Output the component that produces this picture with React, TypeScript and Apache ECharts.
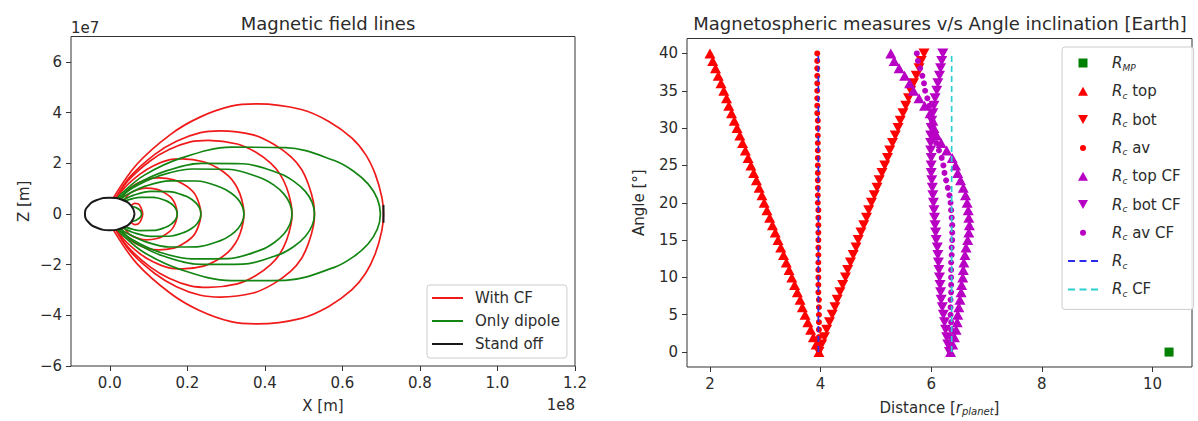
import React, { useEffect, useRef } from "react";
import * as echarts from "echarts";

// ---------- Left chart: field lines (x in 1e8 m, z in 1e7 m) ----------
// Upper halves of each loop, from the foot near the planet to the equator crossing.
const withCF: number[][][] = [
  [[0.01, 0.65], [0.07, 1.96], [0.157, 3.14], [0.23, 3.8], [0.313, 4.25], [0.381, 4.34], [0.494, 4.12], [0.565, 3.65], [0.624, 3.0], [0.66, 2.34], [0.685, 1.56], [0.702, 0.64], [0.706, 0]],
  [[0.015, 0.63], [0.053, 1.48], [0.117, 2.36], [0.172, 2.87], [0.234, 3.21], [0.285, 3.28], [0.37, 3.12], [0.422, 2.76], [0.467, 2.26], [0.494, 1.77], [0.512, 1.18], [0.525, 0.49], [0.528, 0]],
  [[0.017, 0.62], [0.047, 1.31], [0.104, 2.09], [0.153, 2.54], [0.208, 2.84], [0.254, 2.9], [0.329, 2.76], [0.376, 2.44], [0.415, 2.0], [0.439, 1.57], [0.456, 1.04], [0.467, 0.44], [0.47, 0]],
  [[0.022, 0.6], [0.035, 0.98], [0.077, 1.56], [0.113, 1.9], [0.153, 2.13], [0.187, 2.17], [0.242, 2.06], [0.277, 1.82], [0.306, 1.5], [0.3235, 1.17], [0.336, 0.78], [0.344, 0.33], [0.346, 0]],
  [[0.03, 0.56], [0.052, 1.02], [0.104, 1.39], [0.127, 1.42], [0.165, 1.35], [0.188, 1.19], [0.208, 0.98], [0.22, 0.77], [0.228, 0.51], [0.2336, 0.21], [0.235, 0]],
  [[0.037, 0.52], [0.052, 0.82], [0.077, 0.98], [0.094, 1.02], [0.122, 0.97], [0.139, 0.857], [0.154, 0.7], [0.163, 0.55], [0.169, 0.37], [0.173, 0.15], [0.174, 0]],
  [[0.055, 0.33], [0.064, 0.42], [0.073, 0.4], [0.08, 0.26], [0.085, 0]],
];
const onlyDipole: number[][][] = [
  [[0.0194, 0.61], [0.0279, 0.767], [0.0873, 1.511], [0.1854, 2.209], [0.3138, 2.633], [0.4534, 2.618], [0.5792, 2.108], [0.629, 1.686], [0.6667, 1.175], [0.69, 0.604], [0.698, 0]],
  [[0.0223, 0.6], [0.066, 1.143], [0.1402, 1.671], [0.2373, 1.992], [0.3429, 1.98], [0.4381, 1.595], [0.4758, 1.275], [0.5043, 0.889], [0.522, 0.457], [0.528, 0]],
  [[0.0236, 0.595], [0.0588, 1.018], [0.1248, 1.488], [0.2113, 1.773], [0.3053, 1.763], [0.39, 1.419], [0.4236, 1.135], [0.4489, 0.791], [0.4646, 0.4066], [0.47, 0]],
  [[0.0275, 0.578], [0.0433, 0.749], [0.0919, 1.095], [0.1555, 1.305], [0.2247, 1.298], [0.2871, 1.045], [0.3118, 0.8356], [0.3305, 0.583], [0.342, 0.299], [0.346, 0]],
  [[0.0334, 0.546], [0.0624, 0.744], [0.1056, 0.886], [0.1526, 0.881], [0.195, 0.71], [0.2118, 0.5675], [0.2245, 0.396], [0.2323, 0.2033], [0.235, 0]],
  [[0.0388, 0.509], [0.0615, 0.615], [0.0782, 0.656], [0.113, 0.653], [0.1444, 0.525], [0.1568, 0.4202], [0.1662, 0.293], [0.172, 0.1505], [0.174, 0]],
  [[0.0565, 0.3], [0.068, 0.248], [0.0783, 0.138], [0.082, 0]],
];
const planetOutline: number[][] = [
  [0.064, 0], [0.0554, 0.32], [0.032, 0.554], [0, 0.64], [-0.032, 0.554], [-0.0554, 0.32], [-0.064, 0],
  [-0.0554, -0.32], [-0.032, -0.554], [0, -0.64], [0.032, -0.554], [0.0554, -0.32], [0.064, 0],
];
const standOffMark: number[][] = [[0.706, -0.35], [0.706, 0.35]];
const leftXTicks = [0, 0.2, 0.4, 0.6, 0.8, 1.0, 1.2];
const leftYTicks = [-6, -4, -2, 0, 2, 4, 6];

// ---------- Right chart: measures vs angle ----------
const angles = [0, 1, 2, 3, 4, 5, 6, 7, 8, 9, 10, 11, 12, 13, 14, 15, 16, 17, 18, 19, 20, 21, 22, 23, 24, 25, 26, 27, 28, 29, 30, 31, 32, 33, 34, 35, 36, 37, 38, 39, 40];
const rcTop = [3.97, 3.92, 3.87, 3.82, 3.77, 3.72, 3.67, 3.63, 3.58, 3.53, 3.48, 3.43, 3.38, 3.33, 3.28, 3.23, 3.18, 3.13, 3.08, 3.03, 2.98, 2.94, 2.89, 2.84, 2.79, 2.74, 2.69, 2.64, 2.59, 2.54, 2.49, 2.44, 2.39, 2.34, 2.3, 2.25, 2.2, 2.15, 2.1, 2.05, 2.0];
const rcBot = [3.97, 4.02, 4.07, 4.11, 4.16, 4.21, 4.26, 4.3, 4.35, 4.4, 4.45, 4.49, 4.54, 4.59, 4.64, 4.68, 4.73, 4.78, 4.83, 4.87, 4.92, 4.97, 5.02, 5.06, 5.11, 5.16, 5.21, 5.25, 5.3, 5.35, 5.4, 5.44, 5.49, 5.54, 5.59, 5.63, 5.68, 5.73, 5.78, 5.82, 5.87];
const rcAv = [3.97, 3.97, 3.97, 3.97, 3.97, 3.97, 3.97, 3.97, 3.96, 3.96, 3.96, 3.96, 3.96, 3.96, 3.96, 3.96, 3.96, 3.96, 3.96, 3.96, 3.95, 3.95, 3.95, 3.95, 3.95, 3.95, 3.95, 3.95, 3.95, 3.95, 3.95, 3.95, 3.94, 3.94, 3.94, 3.94, 3.94, 3.94, 3.94, 3.94, 3.94];
const rcTopCF = [6.35, 6.39, 6.42, 6.45, 6.47, 6.48, 6.5, 6.52, 6.54, 6.55, 6.57, 6.58, 6.59, 6.61, 6.63, 6.66, 6.68, 6.69, 6.68, 6.67, 6.65, 6.62, 6.58, 6.53, 6.48, 6.44, 6.38, 6.28, 6.18, 6.1, 6.05, 6.03, 5.98, 5.88, 5.78, 5.68, 5.61, 5.52, 5.42, 5.33, 5.27];
const rcBotCF = [6.33, 6.3, 6.28, 6.26, 6.24, 6.22, 6.2, 6.18, 6.17, 6.16, 6.15, 6.14, 6.13, 6.12, 6.11, 6.09, 6.08, 6.07, 6.06, 6.05, 6.04, 6.03, 6.02, 6.01, 6.0, 6.0, 6.0, 5.99, 5.99, 5.99, 6.0, 6.01, 6.03, 6.05, 6.07, 6.1, 6.12, 6.15, 6.17, 6.19, 6.21];
const rcAvCF = [6.34, 6.35, 6.35, 6.36, 6.36, 6.35, 6.35, 6.35, 6.36, 6.36, 6.36, 6.36, 6.36, 6.37, 6.37, 6.38, 6.38, 6.38, 6.37, 6.36, 6.35, 6.33, 6.3, 6.27, 6.24, 6.22, 6.19, 6.14, 6.09, 6.05, 6.03, 6.02, 6.01, 5.97, 5.93, 5.89, 5.87, 5.84, 5.8, 5.76, 5.74];
const rMP = [[10.3, 0]];
const rcMean = 3.96;
const rcMeanCF = 6.37;
const angleSpan = [0, 40];
const rightXTicks = [2, 4, 6, 8, 10];
const rightYTicks = [0, 5, 10, 15, 20, 25, 30, 35, 40];

const RED = "#f01a1a";
const GREEN = "#128512";
const MAG = "#b800c4";
const BLUE = "#2a2af0";
const CYAN = "#2ccfcf";
const TXT = "#2b2b2b";
const FONT = "DejaVu Sans";
const UP_TRI = "path://M5,0L10,9L0,9Z";
const DOWN_TRI = "path://M0,0L10,0L5,9Z";
const SQUARE_ICON = "path://M0,0L9,0L9,9L0,9Z";
const DOT_ICON = "path://M0,0M9,9M1.5,4.5A3,3,0,1,1,7.5,4.5A3,3,0,1,1,1.5,4.5Z";
const LINE_ICON = "path://M0,0L31,0L31,2L0,2Z";
const DASH_ICON = "path://M0,0L7,0L7,2L0,2ZM11.5,0L18.5,0L18.5,2L11.5,2ZM23,0L30,0L30,2L23,2Z";

function mirrorLoop(half: number[][]): number[][] {
  return half.concat(half.slice(0, -1).reverse().map(([x, z]) => [x, -z]));
}
const pair = (xs: number[]) => xs.map((x, i) => [x, angles[i]]);
const minus = (v: number) => String(v).replace("-", "\u2212");

function buildOption(): any {
  const axisLabelBase = { color: TXT, fontSize: 15, fontFamily: FONT };
  const tickBase = { show: true, length: 5, lineStyle: { color: "#333", width: 1 } };
  const noLine = { show: false, onZero: false };
  const leftSeries: any[] = [];
  withCF.forEach((h) =>
    leftSeries.push({
      type: "line", name: "With CF", xAxisIndex: 0, yAxisIndex: 0, data: mirrorLoop(h),
      symbol: "none", smooth: 0.35, lineStyle: { color: RED, width: 1.7 }, itemStyle: { color: RED },
    })
  );
  onlyDipole.forEach((h) =>
    leftSeries.push({
      type: "line", name: "Only dipole", xAxisIndex: 0, yAxisIndex: 0, data: mirrorLoop(h),
      symbol: "none", smooth: 0.35, lineStyle: { color: GREEN, width: 1.7 }, itemStyle: { color: GREEN },
    })
  );
  leftSeries.push({
    type: "line", name: "Stand off", xAxisIndex: 0, yAxisIndex: 0, data: planetOutline,
    symbol: "none", smooth: 0.5, lineStyle: { color: "#1a1a1a", width: 2 }, itemStyle: { color: "#1a1a1a" },
  });
  leftSeries.push({
    type: "line", name: "Stand off", xAxisIndex: 0, yAxisIndex: 0, data: standOffMark,
    symbol: "none", lineStyle: { color: "#1a1a1a", width: 2 }, itemStyle: { color: "#1a1a1a" },
  });

  const sc = (name: string, data: number[][], color: string, symbol: string, size: any) => ({
    type: "scatter", name, xAxisIndex: 1, yAxisIndex: 1, data, symbol, symbolSize: size,
    itemStyle: { color, opacity: 1 },
  });
  const rightSeries: any[] = [
    sc("R_MP", rMP, "#008000", "rect", 9),
    sc("R_c top", pair(rcTop), "#ff0000", "triangle", [11, 10]),
    sc("R_c bot", pair(rcBot), "#ff0000", DOWN_TRI, [11, 10]),
    sc("R_c av", pair(rcAv), "#ff0000", "circle", 6),
    sc("R_c top CF", pair(rcTopCF), MAG, "triangle", [11, 10]),
    sc("R_c bot CF", pair(rcBotCF), MAG, DOWN_TRI, [11, 10]),
    sc("R_c av CF", pair(rcAvCF), MAG, "circle", 6),
    {
      type: "line", name: "R_c", xAxisIndex: 1, yAxisIndex: 1,
      data: angleSpan.map((a) => [rcMean, a]), symbol: "none",
      lineStyle: { color: BLUE, width: 1.7, type: [6, 4] }, itemStyle: { color: BLUE },
    },
    {
      type: "line", name: "R_c CF", xAxisIndex: 1, yAxisIndex: 1,
      data: angleSpan.map((a) => [rcMeanCF, a]), symbol: "none",
      lineStyle: { color: CYAN, width: 1.7, type: [6, 4] }, itemStyle: { color: CYAN },
    },
  ];

  const richText = {
    i: { fontStyle: "italic", fontSize: 15, lineHeight: 18, color: TXT, fontFamily: FONT },
    s: { fontStyle: "italic", fontSize: 9, verticalAlign: "bottom", color: TXT, fontFamily: FONT },
    n: { fontSize: 15, lineHeight: 18, color: TXT, fontFamily: FONT },
  };

  return {
    animation: false,
    textStyle: { fontFamily: FONT },
    title: [
      { text: "Magnetic field lines", left: 323, top: 9, textAlign: "center", textStyle: { fontSize: 18, fontWeight: "normal", color: TXT, fontFamily: FONT } },
      { text: "Magnetospheric measures v/s Angle inclination [Earth]", left: 935, top: 9, textAlign: "center", textStyle: { fontSize: 18, fontWeight: "normal", color: TXT, fontFamily: FONT } },
    ],
    grid: [
      { left: 71, top: 36.5, width: 504, height: 329.5, show: true, borderColor: "#333", borderWidth: 1 },
      { left: 687, top: 38.5, width: 505, height: 333.5, show: true, borderColor: "#333", borderWidth: 1 },
    ],
    xAxis: [
      {
        gridIndex: 0, type: "value", min: -0.1, max: 1.2,
        axisLine: noLine, splitLine: { show: false },
        axisTick: { ...tickBase, customValues: leftXTicks },
        axisLabel: { ...axisLabelBase, margin: 9, customValues: leftXTicks, formatter: (v: number) => v.toFixed(1) },
        name: "X [m]", nameLocation: "middle", nameGap: 32,
        nameTextStyle: { color: TXT, fontSize: 15, fontFamily: FONT },
      },
      {
        gridIndex: 1, type: "value", min: 1.585, max: 10.715,
        axisLine: noLine, splitLine: { show: false },
        axisTick: { ...tickBase, customValues: rightXTicks },
        axisLabel: { ...axisLabelBase, margin: 9, customValues: rightXTicks },
        name: "Distance [{i|r}{s|planet}]", nameLocation: "middle", nameGap: 33,
        nameTextStyle: { color: TXT, fontSize: 15, fontFamily: FONT, rich: { i: { fontStyle: "italic", fontSize: 15, color: TXT, fontFamily: FONT }, s: { fontStyle: "italic", fontSize: 10, color: TXT, fontFamily: FONT, padding: [6, 0, 0, 0] } } },
      },
    ],
    yAxis: [
      {
        gridIndex: 0, type: "value", min: -6, max: 7,
        axisLine: noLine, splitLine: { show: false },
        axisTick: { ...tickBase, customValues: leftYTicks },
        axisLabel: { ...axisLabelBase, margin: 9, customValues: leftYTicks, formatter: minus },
        name: "Z [m]", nameLocation: "middle", nameGap: 40,
        nameTextStyle: { color: TXT, fontSize: 15, fontFamily: FONT },
      },
      {
        gridIndex: 1, type: "value", min: -2, max: 42,
        axisLine: noLine, splitLine: { show: false },
        axisTick: { ...tickBase, customValues: rightYTicks },
        axisLabel: { ...axisLabelBase, margin: 9, customValues: rightYTicks },
        name: "Angle [°]", nameLocation: "middle", nameGap: 41,
        nameTextStyle: { color: TXT, fontSize: 15, fontFamily: FONT },
      },
    ],
    legend: [
      {
        data: [
          { name: "With CF", icon: LINE_ICON },
          { name: "Only dipole", icon: LINE_ICON },
          { name: "Stand off", icon: LINE_ICON },
        ],
        orient: "vertical", left: 427, top: 285,
        padding: [4, 7, 5, 5], itemGap: 5, itemWidth: 31, itemHeight: 14,
        borderColor: "#cccccc", borderWidth: 1, borderRadius: 3, backgroundColor: "rgba(255,255,255,0.85)",
        textStyle: { color: TXT, fontSize: 15, lineHeight: 18, fontFamily: FONT, padding: [0, 0, 0, 7] },
        selectedMode: false,
      },
      {
        data: [
          { name: "R_MP", icon: SQUARE_ICON },
          { name: "R_c top", icon: UP_TRI },
          { name: "R_c bot", icon: DOWN_TRI },
          { name: "R_c av", icon: DOT_ICON },
          { name: "R_c top CF", icon: UP_TRI },
          { name: "R_c bot CF", icon: DOWN_TRI },
          { name: "R_c av CF", icon: DOT_ICON },
          { name: "R_c", icon: DASH_ICON },
          { name: "R_c CF", icon: DASH_ICON },
        ],
        orient: "vertical", left: 1062, top: 47,
        padding: [7, 13, 11, 6], itemGap: 10.3, itemWidth: 30, itemHeight: 9,
        borderColor: "#cccccc", borderWidth: 1, borderRadius: 3, backgroundColor: "rgba(255,255,255,0.85)",
        textStyle: { color: TXT, fontSize: 15, lineHeight: 18, fontFamily: FONT, padding: [0, 0, 0, 9], rich: richText },
        formatter: (name: string) => {
          if (name === "R_MP") return "{i|R}{s|MP}";
          const rest = name.slice(3);
          return "{i|R}{s|c}" + (rest ? "{n|" + rest + "}" : "");
        },
        selectedMode: false,
      },
    ],
    graphic: [
      { type: "text", left: 71, top: 20, style: { text: "1e7", fontSize: 15, fill: TXT, fontFamily: FONT } },
      { type: "text", right: 1198 - 575, top: 397, style: { text: "1e8", fontSize: 15, fill: TXT, fontFamily: FONT } },
    ],
    series: [...leftSeries, ...rightSeries],
  };
}

export default function App() {
  const ref = useRef<HTMLDivElement>(null);
  useEffect(() => {
    document.body.style.margin = "0";
    const chart = echarts.init(ref.current as HTMLDivElement, null, { renderer: "svg" });
    chart.setOption(buildOption());
    return () => chart.dispose();
  }, []);
  return <div ref={ref} style={{ width: 1198, height: 421, background: "#fff" }} />;
}
